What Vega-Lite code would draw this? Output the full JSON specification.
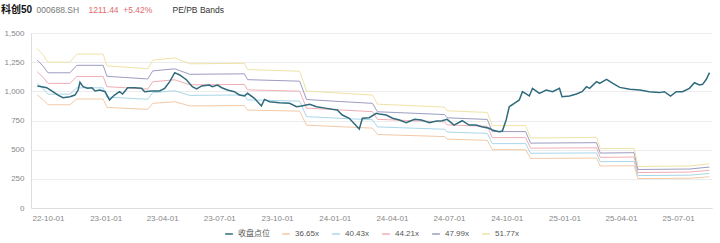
{
  "$schema": "https://vega.github.io/schema/vega-lite/v6.json",
  "width": 681,
  "height": 175,
  "autosize": "none",
  "padding": {"left": 31, "top": 33, "right": 8, "bottom": 35},
  "background": "white",
  "title": {
    "text": "科创50",
    "anchor": "start",
    "frame": "group",
    "fontSize": 10,
    "fontWeight": "bold",
    "color": "#111",
    "offset": -10,
    "dx": -30
  },
  "datasets": {
    "close": [
      {"date":"2022-09-14","v":1046},{"date":"2022-09-21","v":1040},{"date":"2022-09-29","v":1031},{"date":"2022-10-07","v":1003},{"date":"2022-10-17","v":968},{"date":"2022-10-25","v":946},{"date":"2022-11-05","v":954},{"date":"2022-11-13","v":968},{"date":"2022-11-18","v":1011},{"date":"2022-11-21","v":1077},{"date":"2022-11-26","v":1040},{"date":"2022-12-03","v":1026},{"date":"2022-12-10","v":1031},{"date":"2022-12-15","v":1003},{"date":"2022-12-23","v":1011},{"date":"2022-12-31","v":997},{"date":"2023-01-07","v":926},{"date":"2023-01-15","v":968},{"date":"2023-01-23","v":997},{"date":"2023-01-28","v":977},{"date":"2023-02-05","v":1031},{"date":"2023-02-16","v":1031},{"date":"2023-02-27","v":1026},{"date":"2023-03-04","v":997},{"date":"2023-03-15","v":1003},{"date":"2023-03-28","v":1003},{"date":"2023-04-05","v":1026},{"date":"2023-04-13","v":1083},{"date":"2023-04-21","v":1160},{"date":"2023-04-29","v":1140},{"date":"2023-05-10","v":1097},{"date":"2023-05-19","v":1040},{"date":"2023-05-26","v":1020},{"date":"2023-06-03","v":1046},{"date":"2023-06-15","v":1054},{"date":"2023-06-20","v":1040},{"date":"2023-06-28","v":1054},{"date":"2023-07-05","v":1031},{"date":"2023-07-14","v":1011},{"date":"2023-07-25","v":997},{"date":"2023-08-02","v":969},{"date":"2023-08-10","v":960},{"date":"2023-08-15","v":983},{"date":"2023-08-26","v":940},{"date":"2023-09-06","v":874},{"date":"2023-09-11","v":931},{"date":"2023-09-19","v":911},{"date":"2023-10-05","v":903},{"date":"2023-10-21","v":897},{"date":"2023-11-01","v":868},{"date":"2023-11-09","v":874},{"date":"2023-11-22","v":889},{"date":"2023-12-03","v":868},{"date":"2023-12-19","v":854},{"date":"2023-12-28","v":846},{"date":"2024-01-05","v":840},{"date":"2024-01-13","v":797},{"date":"2024-01-24","v":769},{"date":"2024-02-09","v":677},{"date":"2024-02-14","v":769},{"date":"2024-02-25","v":774},{"date":"2024-03-07","v":811},{"date":"2024-03-12","v":806},{"date":"2024-03-23","v":797},{"date":"2024-04-02","v":769},{"date":"2024-04-13","v":754},{"date":"2024-04-24","v":731},{"date":"2024-05-07","v":760},{"date":"2024-05-18","v":754},{"date":"2024-05-31","v":731},{"date":"2024-06-11","v":746},{"date":"2024-06-20","v":748},{"date":"2024-06-28","v":760},{"date":"2024-07-09","v":711},{"date":"2024-07-22","v":748},{"date":"2024-08-02","v":711},{"date":"2024-08-13","v":711},{"date":"2024-08-22","v":697},{"date":"2024-09-03","v":683},{"date":"2024-09-08","v":669},{"date":"2024-09-19","v":654},{"date":"2024-09-24","v":660},{"date":"2024-09-30","v":754},{"date":"2024-10-05","v":868},{"date":"2024-10-13","v":897},{"date":"2024-10-21","v":926},{"date":"2024-10-26","v":997},{"date":"2024-11-06","v":960},{"date":"2024-11-11","v":1026},{"date":"2024-11-22","v":983},{"date":"2024-12-03","v":1011},{"date":"2024-12-13","v":997},{"date":"2024-12-24","v":1026},{"date":"2024-12-28","v":954},{"date":"2025-01-09","v":960},{"date":"2025-01-20","v":977},{"date":"2025-01-29","v":997},{"date":"2025-02-05","v":1040},{"date":"2025-02-10","v":1026},{"date":"2025-02-21","v":1083},{"date":"2025-02-26","v":1069},{"date":"2025-03-09","v":1103},{"date":"2025-03-19","v":1069},{"date":"2025-03-30","v":1034},{"date":"2025-04-15","v":1017},{"date":"2025-05-01","v":1011},{"date":"2025-05-16","v":997},{"date":"2025-06-01","v":989},{"date":"2025-06-09","v":997},{"date":"2025-06-19","v":960},{"date":"2025-06-28","v":997},{"date":"2025-07-08","v":997},{"date":"2025-07-19","v":1026},{"date":"2025-07-27","v":1074},{"date":"2025-08-04","v":1054},{"date":"2025-08-09","v":1060},{"date":"2025-08-15","v":1103},{"date":"2025-08-20","v":1160}
    ],
    "bands": [
      {"date":"2022-09-14","m1":968,"m2":1068,"m3":1168,"m4":1268,"m5":1367},
      {"date":"2022-09-23","m1":930,"m2":1026,"m3":1122,"m4":1218,"m5":1314},
      {"date":"2022-10-01","m1":885,"m2":976,"m3":1068,"m4":1159,"m5":1250},
      {"date":"2022-11-05","m1":885,"m2":976,"m3":1068,"m4":1159,"m5":1250},
      {"date":"2022-11-16","m1":934,"m2":1030,"m3":1127,"m4":1223,"m5":1319},
      {"date":"2022-12-28","m1":934,"m2":1030,"m3":1127,"m4":1223,"m5":1319},
      {"date":"2023-01-03","m1":862,"m2":951,"m3":1040,"m4":1129,"m5":1218},
      {"date":"2023-03-09","m1":845,"m2":932,"m3":1019,"m4":1106,"m5":1194},
      {"date":"2023-03-17","m1":897,"m2":989,"m3":1082,"m4":1175,"m5":1267},
      {"date":"2023-04-21","m1":911,"m2":1005,"m3":1099,"m4":1193,"m5":1287},
      {"date":"2023-05-15","m1":875,"m2":965,"m3":1056,"m4":1146,"m5":1236},
      {"date":"2023-08-10","m1":878,"m2":969,"m3":1059,"m4":1150,"m5":1240},
      {"date":"2023-08-15","m1":840,"m2":927,"m3":1013,"m4":1100,"m5":1187},
      {"date":"2023-11-06","m1":830,"m2":916,"m3":1001,"m4":1087,"m5":1172},
      {"date":"2023-11-17","m1":710,"m2":783,"m3":856,"m4":930,"m5":1003},
      {"date":"2024-01-08","m1":697,"m2":769,"m3":841,"m4":913,"m5":985},
      {"date":"2024-03-01","m1":685,"m2":756,"m3":826,"m4":897,"m5":968},
      {"date":"2024-03-09","m1":630,"m2":695,"m3":760,"m4":825,"m5":890},
      {"date":"2024-06-24","m1":612,"m2":675,"m3":738,"m4":801,"m5":865},
      {"date":"2024-06-28","m1":590,"m2":651,"m3":712,"m4":773,"m5":833},
      {"date":"2024-08-31","m1":580,"m2":640,"m3":700,"m4":759,"m5":819},
      {"date":"2024-09-08","m1":500,"m2":552,"m3":603,"m4":655,"m5":706},
      {"date":"2024-10-31","m1":500,"m2":552,"m3":603,"m4":655,"m5":706},
      {"date":"2024-11-08","m1":425,"m2":469,"m3":513,"m4":556,"m5":600},
      {"date":"2025-02-21","m1":428,"m2":472,"m3":516,"m4":560,"m5":605},
      {"date":"2025-02-27","m1":360,"m2":397,"m3":434,"m4":471,"m5":509},
      {"date":"2025-04-22","m1":362,"m2":399,"m3":437,"m4":474,"m5":511},
      {"date":"2025-04-28","m1":252,"m2":278,"m3":304,"m4":330,"m5":356},
      {"date":"2025-07-19","m1":255,"m2":281,"m3":308,"m4":334,"m5":360},
      {"date":"2025-08-20","m1":268,"m2":296,"m3":323,"m4":351,"m5":379}
    ]
  },
  "encoding": {
    "x": {
      "field": "date",
      "type": "temporal",
      "scale": {
        "type": "utc",
        "domain": [{"year": 2022, "month": 9, "date": 4, "utc": true}, {"year": 2025, "month": 8, "date": 24, "utc": true}]
      },
      "axis": {
        "title": "1211.44\u00a0\u00a0+5.42%",
        "titleX": 57,
        "titleY": -199,
        "titleAlign": "left",
        "titleBaseline": "middle",
        "titleAngle": 0,
        "titleFontSize": 8.5,
        "titleFontWeight": "normal",
        "titleColor": "#e06b6b",
        "format": "%y-%m-%d",
        "values": [
          {"year": 2022, "month": 10, "date": 1, "utc": true},
          {"year": 2023, "month": 1, "date": 1, "utc": true},
          {"year": 2023, "month": 4, "date": 1, "utc": true},
          {"year": 2023, "month": 7, "date": 1, "utc": true},
          {"year": 2023, "month": 10, "date": 1, "utc": true},
          {"year": 2024, "month": 1, "date": 1, "utc": true},
          {"year": 2024, "month": 4, "date": 1, "utc": true},
          {"year": 2024, "month": 7, "date": 1, "utc": true},
          {"year": 2024, "month": 10, "date": 1, "utc": true},
          {"year": 2025, "month": 1, "date": 1, "utc": true},
          {"year": 2025, "month": 4, "date": 1, "utc": true},
          {"year": 2025, "month": 7, "date": 1, "utc": true}
        ],
        "grid": false,
        "ticks": false,
        "labelPadding": 6,
        "domainColor": "#dddddd"
      }
    },
    "color": {
      "field": "series",
      "type": "nominal",
      "scale": {
        "domain": ["收盘点位", "m1", "m2", "m3", "m4", "m5"],
        "range": ["#2f6b7c", "#f3c9a6", "#a9d7e8", "#f1adb4", "#9d9cc2", "#efe3a6"]
      },
      "legend": {
        "title": null,
        "orient": "none",
        "legendX": 193,
        "legendY": 196,
        "direction": "horizontal",
        "symbolType": "stroke",
        "symbolSize": 60,
        "symbolStrokeWidth": 1.5,
        "labelFontSize": 8,
        "labelColor": "#555",
        "columnPadding": 9,
        "labelExpr": "{'m1':'36.65x','m2':'40.43x','m3':'44.21x','m4':'47.99x','m5':'51.77x'}[datum.label] || datum.label"
      }
    }
  },
  "layer": [
    {
      "data": {"name": "bands"},
      "transform": [{"fold": ["m1", "m2", "m3", "m4", "m5"], "as": ["series", "value"]}],
      "mark": {"type": "line", "strokeWidth": 1},
      "encoding": {
        "y": {
          "field": "value",
          "type": "quantitative",
          "scale": {"domain": [0, 1500]},
          "axis": {
            "orient": "left",
            "title": "000688.SH",
            "titleX": 5,
            "titleY": -24,
            "titleAlign": "left",
            "titleBaseline": "middle",
            "titleAngle": 0,
            "titleFontSize": 8.5,
            "titleFontWeight": "normal",
            "titleColor": "#777",
            "values": [0, 250, 500, 750, 1000, 1250, 1500],
            "format": ",d",
            "grid": true,
            "gridColor": "#ececec",
            "ticks": false,
            "labelPadding": 7,
            "domainColor": "#dddddd"
          }
        }
      }
    },
    {
      "data": {"name": "close"},
      "mark": {"type": "line", "strokeWidth": 1.5},
      "encoding": {
        "y": {
          "field": "v",
          "type": "quantitative",
          "scale": {"domain": [0, 1500]},
          "axis": {
            "orient": "left",
            "title": "PE/PB Bands",
            "titleX": 141,
            "titleY": -24,
            "titleAlign": "left",
            "titleBaseline": "middle",
            "titleAngle": 0,
            "titleFontSize": 8.5,
            "titleFontWeight": "normal",
            "titleColor": "#333",
            "labels": false,
            "grid": false,
            "ticks": false,
            "domain": false
          }
        },
        "color": {"datum": "收盘点位"}
      }
    }
  ],
  "resolve": {"axis": {"y": "independent"}},
  "config": {
    "font": "Arial, 'Noto Sans CJK SC', sans-serif",
    "view": {"stroke": null},
    "axis": {"labelFontSize": 8, "labelColor": "#888", "labelFont": "Arial, 'Noto Sans CJK SC', sans-serif"}
  }
}
